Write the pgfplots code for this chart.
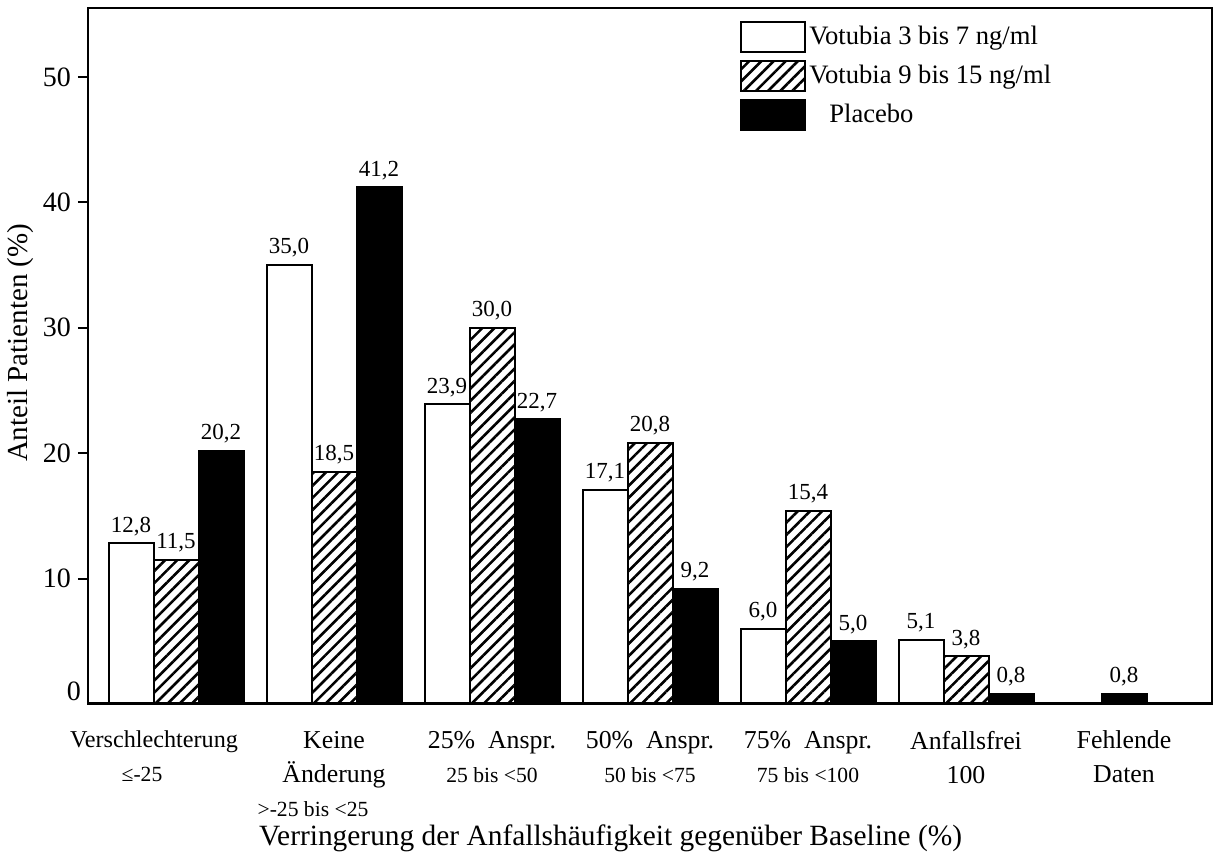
\documentclass[border=0pt]{standalone}
\usepackage{pgfplots}
\pgfplotsset{compat=1.18}
\usepackage{fontspec}
\setmainfont{Liberation Serif}
\usetikzlibrary{patterns.meta}

\pgfplotstableread{
x y
0 12.8
1 35.0
2 23.9
3 17.1
4 6.0
5 5.1
}\lowdata
\pgfplotstableread{
x y
0 11.5
1 18.5
2 30.0
3 20.8
4 15.4
5 3.8
}\highdata
\pgfplotstableread{
x y
0 20.2
1 41.2
2 22.7
3 9.2
4 5.0
5 0.8
}\placebodata
\pgfplotstableread{
x y
6 0.8
}\missingdata

\begin{document}
\begin{tikzpicture}
\begin{axis}[
  scale only axis, width=562pt, height=348pt,
  xmin=-0.557, xmax=6.557, ymin=0, ymax=55.5,
  axis line style={line width=1pt},
  ybar, bar width=22.5pt,
  ytick={10,20,30,40,50},
  extra y ticks={0},
  extra y tick style={major tick length=0pt, yticklabel style={yshift=6.5pt}},
  ytick pos=left, tick align=outside, major tick length=5pt,
  y tick style={line width=1pt, black},
  yticklabel style={font=\fontsize{14}{16}\selectfont, /pgf/number format/assume math mode=true},
  xtick={0,1,2,3,4,5,6},
  x tick style={draw=none},
  xticklabels={
    {\fontsize{12.1}{17}\selectfont Verschlechterung\hspace*{22pt}\\{\fontsize{10.8}{17}\selectfont ≤-25\hspace*{34pt}}},
    {Keine\\Änderung\\{\fontsize{10.8}{17}\selectfont >-25 bis <25\hspace*{21pt}}},
    {25\%\ \ Anspr.\\{\fontsize{10.8}{17}\selectfont 25 bis <50}},
    {50\%\ \ Anspr.\\{\fontsize{10.8}{17}\selectfont 50 bis <75}},
    {75\%\ \ Anspr.\\{\fontsize{10.8}{17}\selectfont 75 bis <100}},
    {Anfallsfrei\\100},
    {Fehlende\\Daten}},
  xticklabel style={align=center, font=\fontsize{12.9}{17}\selectfont, yshift=-5pt},
  every axis y label/.style={at={(axis description cs:-0.0596,0.519)}, rotate=90, anchor=center},
  ylabel={Anteil Patienten (\%)},
  ylabel style={font=\fontsize{14.5}{16}\selectfont},
  every axis x label/.style={at={(axis description cs:0.465,0)}, anchor=north, yshift=-57pt},
  xlabel={Verringerung der Anfallshäufigkeit gegenüber Baseline (\%)},
  xlabel style={font=\fontsize{14.7}{16}\selectfont},
  nodes near coords={\pgfmathprintnumber[use comma,fixed,fixed zerofill,precision=1,assume math mode=true]{\pgfplotspointmeta}},
  every node near coord/.append style={font=\fontsize{11.5}{13}\selectfont, black},
  legend style={at={(axis description cs:0.58,0.982)}, anchor=north west, draw=none, fill=none,
    font=\fontsize{13.3}{15}\selectfont, row sep=3.5pt, inner sep=0pt,
    nodes={inner sep=1.5pt, anchor=west}},
  legend cell align=left,
  mylegend/.style={legend image code/.code={\draw[##1, line width=1pt] (0pt,-7.5pt) rectangle (32pt,7.5pt);}},
]
\addplot[draw=black, fill=white, line width=1pt, bar shift=-22.5pt, mylegend] table[x=x,y=y]{\lowdata};
\addlegendentry{Votubia 3 bis 7 ng/ml}
\addplot[draw=black, line width=1pt, pattern={Lines[angle=45,distance=4.3pt,line width=1.3pt]}, pattern color=black, bar shift=0pt, mylegend] table[x=x,y=y]{\highdata};
\addlegendentry{Votubia 9 bis 15 ng/ml}
\addplot[draw=black, fill=black, line width=1pt, bar shift=22.5pt, mylegend] table[x=x,y=y]{\placebodata};
\addlegendentry{\hspace{10pt}Placebo}
\addplot[draw=black, fill=black, line width=1pt, bar shift=0pt, forget plot] table[x=x,y=y]{\missingdata};
\draw[line width=1.6pt] (rel axis cs:0,0) -- (rel axis cs:1,0);
\end{axis}
\pgfresetboundingbox
\path ([xshift=-44pt,yshift=-77.5pt]current axis.south west) rectangle ([xshift=1pt,yshift=4pt]current axis.north east);
\end{tikzpicture}
\end{document}
